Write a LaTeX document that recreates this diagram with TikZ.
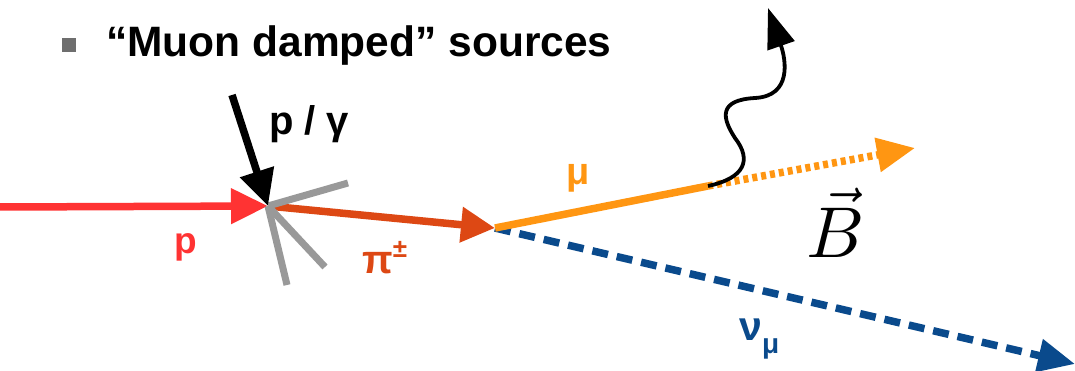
\documentclass[tikz,border=0pt]{standalone}
\usepackage{fontspec}
\setmainfont{Liberation Sans}
\usetikzlibrary{arrows.meta}
\definecolor{pred}{RGB}{255,51,51}
\definecolor{ppion}{RGB}{221,72,20}
\definecolor{pmuon}{RGB}{255,150,18}
\definecolor{pnu}{RGB}{10,74,140}
\definecolor{pgray}{RGB}{153,153,153}
\definecolor{pbullet}{RGB}{110,110,110}
\begin{document}
\begin{tikzpicture}[x=1pt,y=-1pt,
  lbl/.style={inner sep=0pt, anchor=base west, font=\bfseries\fontsize{40}{40}\selectfont},
  track/.style={line width=7.5pt},
  grayline/.style={line width=7pt, draw=pgray},
  head/.style={-{Triangle[length=#1, width=34pt]}},
  wave/.style={line width=3.8pt, -{Triangle[length=40pt, width=28pt]}},
]
\useasboundingbox (0,0) rectangle (1075,371);

% title
\node[fill=pbullet, minimum size=14pt, inner sep=0pt] (bullet) at (69,45) {};
\node[lbl, font=\bfseries\fontsize{42.5}{42.5}\selectfont] (title) at (106,57) {“Muon damped” sources};

% points
\coordinate (pin) at (0,207);
\coordinate (V) at (268,206);
\coordinate (gin) at (232,95);
\coordinate (g1) at (348,183);
\coordinate (g2) at (325,267);
\coordinate (g3) at (287,285);
\coordinate (D) at (495,228);
\coordinate (K) at (708,186);
\coordinate (Mend) at (915,148);
\coordinate (Nend) at (1075,364);
\coordinate (W) at (768,8);

% incoming proton
\draw[track, pred, head=37pt] (pin) -- (V);
% pion
\draw[track, ppion, head=34pt] (V) -- (D);
% gray fragments
\draw[grayline] (V) -- (g1);
\draw[grayline] (V) -- (g2);
\draw[grayline] (V) -- (g3);
% neutrino
\draw[track, pnu, dash pattern=on 16pt off 9pt, -{Triangle[length=37pt, width=32pt]}] (D) -- (Nend);
% muon
\draw[track, pmuon] (D) -- (K);
\draw[track, pmuon, dash pattern=on 5pt off 4pt, -{Triangle[length=38pt, width=33pt]}] (K) -- (Mend);
% incoming p / gamma
\draw[track, black, head=36pt] (gin) -- (V);
% photon / emission
\draw[wave] (K) .. controls (745,178) and (752,160) .. (735,138)
  .. controls (722,118) and (718,100) .. (755,98)
  .. controls (792,96) and (786,60) .. (W);

% labels
\node[lbl] (lpg) at (269,135) {p / γ};
\node[lbl, text=pred, font=\bfseries\fontsize{37}{37}\selectfont] (lp) at (174,253) {p};
\node[lbl, text=ppion] (lpi) at (362,273) {π\raisebox{16pt}{\fontsize{26}{26}\selectfont ±}};
\node[lbl, text=pmuon, font=\bfseries\fontsize{38}{38}\selectfont] (lmu) at (566,185) {μ};
\node[lbl, text=pnu, font=\bfseries\fontsize{41}{41}\selectfont] (lnu) at (739,340) {ν\raisebox{-13pt}{\fontsize{28}{28}\selectfont μ}};
\node[inner sep=0pt, anchor=base west] (lB) at (806,258) {\scalebox{7.2}{$\vec{B}$}};
\end{tikzpicture}
\end{document}
